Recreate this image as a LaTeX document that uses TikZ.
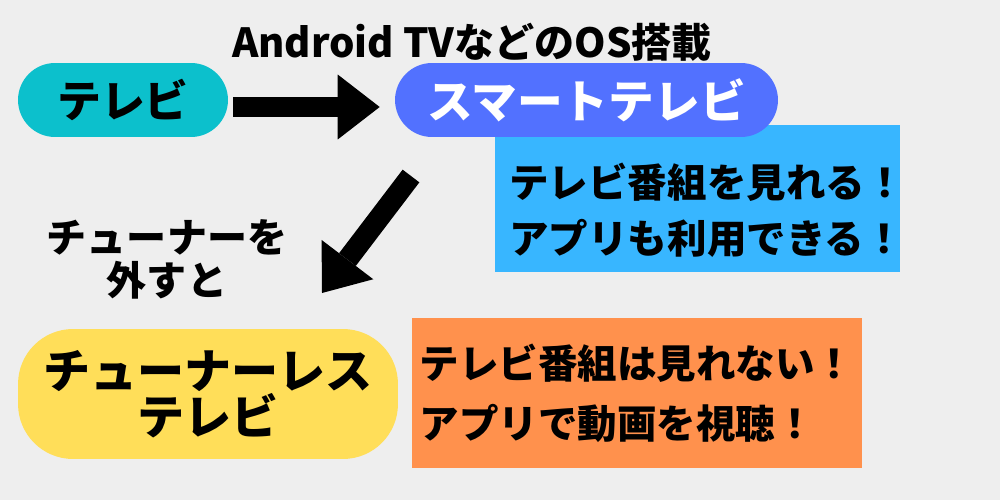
\documentclass[tikz,border=0pt]{standalone}
\usepackage{fontspec}
\newfontfamily\jpfont{Noto Sans CJK JP}
\usetikzlibrary{arrows.meta}
\definecolor{bgGray}{HTML}{EEEEEE}
\definecolor{tvTeal}{HTML}{0CC0CC}
\definecolor{smartBlue}{HTML}{5271FF}
\definecolor{boxBlue}{HTML}{38B6FF}
\definecolor{lessYellow}{HTML}{FFDE59}
\definecolor{boxOrange}{HTML}{FF914D}

\begin{document}
\begin{tikzpicture}[x=0.02cm, y=-0.02cm,
    pill/.style ={rounded corners=0.74cm, minimum height=1.48cm, inner sep=0pt},
    infobox/.style ={inner sep=0pt, align=left},
    bigarrow/.style ={line width=0.42cm, -{Triangle[length=0.84cm, width=1.3cm, line width=0pt]}}]
   \fill[bgGray] (0,0) rectangle (1000,500);
   \useasboundingbox (0,0) rectangle (1000,500);

   \node (title) [font=\jpfont\bfseries\fontsize{22.8}{26}\selectfont] at (472,42) {Android TVなどのOS搭載};

   \node[pill, fill=tvTeal, minimum width=4.2cm] (tv) [font=\jpfont\bfseries\fontsize{25}{29}\selectfont] at (123,100) {テレビ};
   \node[infobox, fill=boxBlue, minimum width=8.1cm, minimum height=2.94cm] (blueBox) at (697.5,198.5) {};
   \node[infobox] (blueText) [font=\jpfont\bfseries\fontsize{22.5}{31.7}\selectfont] at (707,210) {テレビ番組を見れる！\\アプリも利用できる！};
   \node[pill, fill=smartBlue, minimum width=7.66cm, text=white] (smart) [font=\jpfont\bfseries\fontsize{26}{30}\selectfont] at (586.5,100) {スマートテレビ};

   \node (remove) [align=center, font=\jpfont\bfseries\fontsize{22.8}{24.5}\selectfont] at (167,259) {チューナーを\\外すと};

   \node[pill, fill=lessYellow, minimum width=7.6cm, minimum height=2.6cm, rounded corners=1.1cm, align=center] (tunerless) [font=\jpfont\bfseries\fontsize{26.8}{26.5}\selectfont] at (208,394) {チューナーレス\\テレビ};
   \node[infobox, fill=boxOrange, minimum width=9cm, minimum height=3cm] (orangeBox) [font=\jpfont\bfseries\fontsize{22.5}{34}\selectfont] at (637,393) {テレビ番組は見れない！\\アプリで動画を視聴！};

   \coordinate (tailA) at (411,176);
   \coordinate (tipA) at (322,293);
   \draw[bigarrow, shorten <=0.1cm, shorten >=0.3cm] ([yshift=-0.14cm]tv.east) -- ([yshift=-0.14cm]smart.west);
   \draw[bigarrow] (tailA) -- (tipA);
 \end{tikzpicture}
\end{document}
